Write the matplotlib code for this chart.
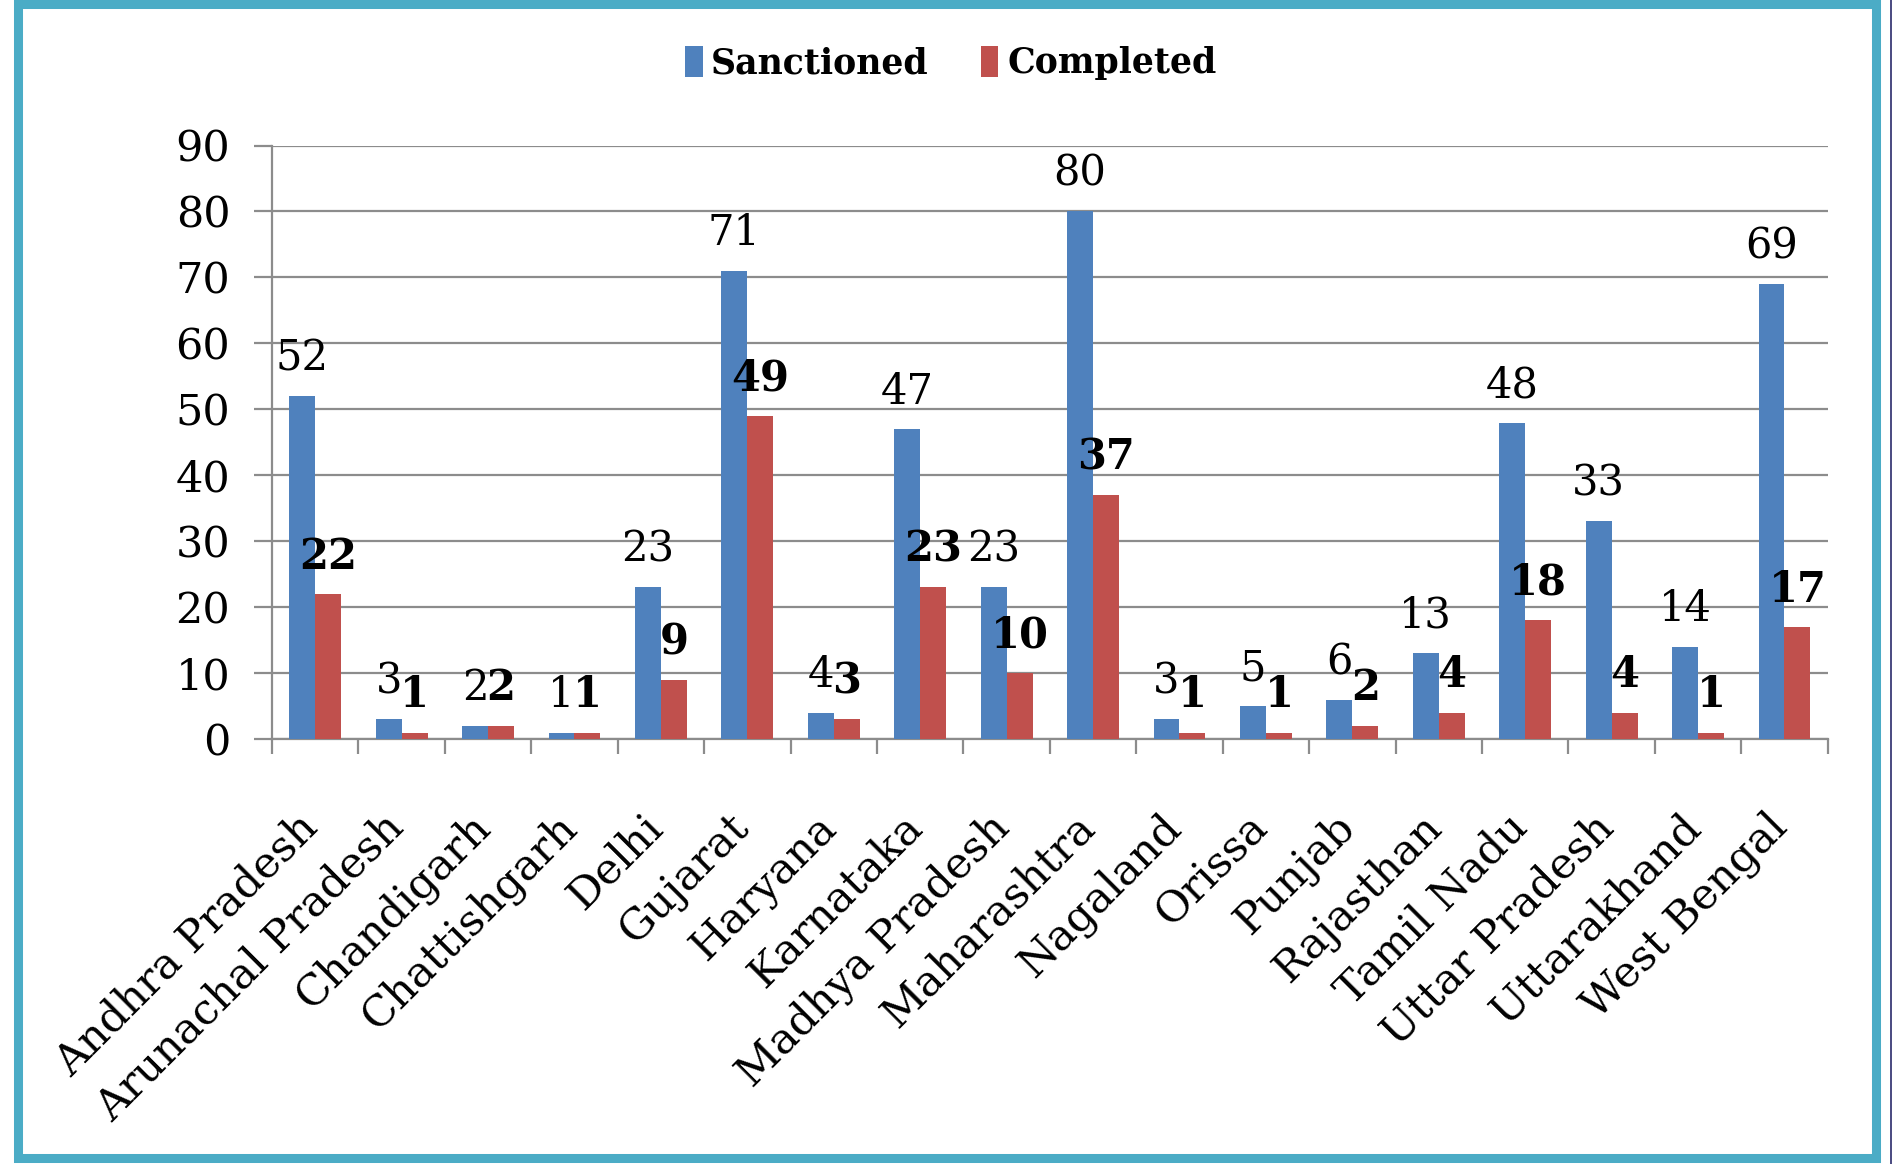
import matplotlib
matplotlib.use("Agg")
import matplotlib.pyplot as plt
import numpy as np
from matplotlib.patches import Rectangle
from matplotlib.lines import Line2D

states = ["Andhra Pradesh", "Arunachal Pradesh", "Chandigarh", "Chattishgarh", "Delhi",
          "Gujarat", "Haryana", "Karnataka", "Madhya Pradesh", "Maharashtra", "Nagaland",
          "Orissa", "Punjab", "Rajasthan", "Tamil Nadu", "Uttar Pradesh", "Uttarakhand",
          "West Bengal"]
sanctioned = [52, 3, 2, 1, 23, 71, 4, 47, 23, 80, 3, 5, 6, 13, 48, 33, 14, 69]
completed = [22, 1, 2, 1, 9, 49, 3, 23, 10, 37, 1, 1, 2, 4, 18, 4, 1, 17]
yticks = [0, 10, 20, 30, 40, 50, 60, 70, 80, 90]

BLUE = "#4F81BD"
RED = "#C0504D"
GRID = "#8C8C8C"
TEAL = "#4BACC6"
FONT = "DejaVu Serif"

plt.rcParams["font.family"] = FONT

fig = plt.figure(figsize=(18.94, 11.64), dpi=100)
ax = fig.add_axes([0.1436, 0.365, 0.965 - 0.1436, 0.875 - 0.365])

x = np.arange(len(states))
w = 0.30
b1 = ax.bar(x - w / 2, sanctioned, w, color=BLUE, label="Sanctioned", zorder=3)
b2 = ax.bar(x + w / 2, completed, w, color=RED, label="Completed", zorder=3)

for xi, v in zip(x, sanctioned):
    ax.annotate(str(v), (xi - w / 2, v), xytext=(0, 27), textcoords="offset points",
                ha="center", va="center", fontsize=30, color="black", zorder=4)
for xi, v in zip(x, completed):
    ax.annotate(str(v), (xi + w / 2, v), xytext=(0, 27), textcoords="offset points",
                ha="center", va="center", fontsize=30, fontweight="bold", color="black", zorder=5)

ax.set_xlim(-0.5, len(states) - 0.5)
ax.set_ylim(0, 90)
ax.set_yticks(yticks)
ax.set_yticklabels([str(t) for t in yticks], fontsize=31)
ax.yaxis.grid(True, color=GRID, linewidth=1.6, zorder=0)
ax.set_axisbelow(True)

# tick marks at category boundaries, labels (no marks) near category centres
ax.set_xticks(np.arange(-0.5, len(states), 1.0))
ax.set_xticklabels([])
ax.set_xticks(x - 0.22, minor=True)
ax.set_xticklabels(states, minor=True, rotation=45, ha="right", va="top",
                   rotation_mode="anchor", fontsize=31)
ax.tick_params(axis="x", which="major", length=11, width=1.6, color=GRID, direction="out")
ax.tick_params(axis="x", which="minor", length=0, pad=48)
ax.tick_params(axis="y", length=13, width=1.6, color=GRID, direction="out", pad=17)

for s in ["top", "right"]:
    ax.spines[s].set_visible(False)
for s in ["left", "bottom"]:
    ax.spines[s].set_color(GRID)
    ax.spines[s].set_linewidth(1.6)

fig.legend(handles=[b1, b2], labels=["Sanctioned", "Completed"], loc="center",
           bbox_to_anchor=(0.502, 0.946), ncol=2, frameon=False,
           prop={"family": FONT, "weight": "bold", "size": 25},
           handlelength=0.5, handleheight=1.0, handletextpad=0.25, columnspacing=1.5)

# teal outer frame
frame = Rectangle((18 / 1894, 6 / 1164), (1876 - 18) / 1894, (1160 - 6) / 1164,
                  transform=fig.transFigure, fill=False, edgecolor=TEAL, linewidth=6.5,
                  zorder=10)
fig.patches.append(frame)
fig.lines.append(Line2D([1891 / 1894, 1891 / 1894], [0, 1], transform=fig.transFigure,
                        color="#2B2B6B", linewidth=1.2))

fig.savefig("out.png", dpi=100, facecolor="white")
